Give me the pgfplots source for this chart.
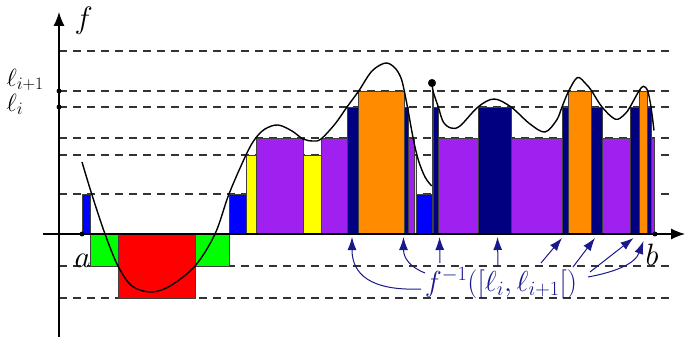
\documentclass[border=0pt]{standalone}
\usepackage{fix-cm}
\usepackage{pgfplots}
\pgfplotsset{compat=1.18}
\usetikzlibrary{arrows.meta}
\definecolor{cblue}{RGB}{0,0,255}
\definecolor{cgreen}{RGB}{0,255,0}
\definecolor{cred}{RGB}{255,0,0}
\definecolor{cyellow}{RGB}{255,255,0}
\definecolor{cpurple}{RGB}{160,32,240}
\definecolor{cnavy}{RGB}{0,0,128}
\definecolor{corange}{RGB}{255,140,0}
\definecolor{annot}{RGB}{25,25,140}
\newcommand{\rbar}[4]{\addplot[fill=#1, draw=black!75, line width=0.8bp] coordinates {(#2,0) (#2,#4) (#3,#4) (#3,0)} -- cycle;}
\newcommand{\level}[1]{\addplot[black!80, line width=1.2bp, dash pattern=on 8bp off 6bp] coordinates {(59,#1) (670,#1)};}
\begin{document}
\begin{tikzpicture}
\useasboundingbox (0,0) rectangle (685bp,337bp);
\clip (0,0) rectangle (685bp,337bp);
\begin{axis}[x=1bp, y=1bp, xmin=0, xmax=685, ymin=-103, ymax=234,
  hide axis, clip=false, anchor=south west, at={(0,0)}]
% level lines
\level{183}
\level{143}
\level{127}
\level{96}
\level{79}
\level{40}
\level{-32}
\level{-64}
% bars
\rbar{cblue}{82.3}{90.7}{40}
\rbar{cgreen}{90.7}{118.5}{-32}
\rbar{cred}{118.5}{195}{-64}
\rbar{cgreen}{195}{229}{-32}
\rbar{cblue}{229}{246}{40}
\rbar{cyellow}{246}{256}{79}
\rbar{cpurple}{256}{303.3}{96}
\rbar{cyellow}{303.3}{321.7}{79}
\rbar{cpurple}{321.7}{347}{96}
\rbar{cnavy}{347}{358.7}{127}
\rbar{corange}{358.7}{404.3}{143}
\rbar{cnavy}{404.3}{408}{127}
\rbar{cpurple}{408}{414}{96}
\rbar{cyellow}{414}{416.7}{79}
\rbar{cblue}{416.7}{432}{40}
\rbar{corange}{432}{433.5}{143}
\rbar{cnavy}{433.5}{438.3}{127}
\rbar{cpurple}{438.3}{478.3}{96}
\rbar{cnavy}{478.3}{511}{127}
\rbar{cpurple}{511}{562}{96}
\rbar{cnavy}{562}{568.7}{127}
\rbar{corange}{568.7}{591.7}{143}
\rbar{cnavy}{591.7}{602.3}{127}
\rbar{cpurple}{602.3}{630.5}{96}
\rbar{cnavy}{630.5}{639}{127}
\rbar{corange}{639}{647.7}{143}
\rbar{cnavy}{647.7}{651}{127}
\rbar{cpurple}{651}{654.3}{96}
% axes
\draw[line width=1.2bp, -{Latex[length=14bp,width=11bp]}] (axis cs:43,0) -- (axis cs:685,0);
\draw[line width=1.2bp, -{Latex[length=14bp,width=11bp]}] (axis cs:59,-103) -- (axis cs:59,222);
% function
\addplot[black, line width=1.4bp, smooth, tension=0.55] coordinates {
(82,72) (91.7,40) (105,0) (118,-32) (132,-52) (151,-58) (170,-52) (195,-32)
(215,0) (229,40) (246,79) (255,95) (265,105) (278,109) (292,103) (303,95)
(313,93) (321,95) (335,110) (347,127) (358.7,143) (372,163) (385.7,171)
(395,166) (401,156) (404.3,143) (408,124) (413.3,95) (418.3,74) (425,57) (431.7,48)};
\addplot[black, line width=1.4bp, smooth, tension=0.55] coordinates {
(432,151) (433.3,142) (438.3,127) (443.3,112) (451,106) (460,108) (478,127)
(494,135) (511,127) (530,110) (545,102) (556.7,114) (562,127) (568.7,143)
(577.5,156.5) (586,150) (591.7,143) (602,127) (615.5,114.7) (625,120) (630,127)
(639,143) (643.5,147.7) (647.7,143) (651,127) (654,103.5)};
% dots
\addplot[only marks, mark=*, mark size=2.2bp, black] coordinates {(82,0) (655,0) (59,143) (59,127)};
\addplot[only marks, mark=*, mark size=3.8bp, black] coordinates {(432,151)};
% annotation arrows
\begin{scope}[annot, line width=1bp, -{Latex[length=13bp,width=9bp]}]
\draw (axis cs:421,-55) .. controls (axis cs:370,-57) and (axis cs:352,-40) .. (axis cs:352,-3);
\draw (axis cs:425,-39) .. controls (axis cs:410,-33) and (axis cs:403.5,-24) .. (axis cs:403.5,-3);
\draw (axis cs:440,-29) -- (axis cs:439.5,-3);
\draw (axis cs:498,-33) -- (axis cs:497.5,-3);
\draw (axis cs:541,-29) -- (axis cs:562,-4);
\draw (axis cs:573,-33) -- (axis cs:595,-4);
\draw (axis cs:590,-38) -- (axis cs:633.5,-4);
\draw (axis cs:588,-43) .. controls (axis cs:615,-38) and (axis cs:635,-30) .. (axis cs:643.5,-7);
\end{scope}
% labels
\node[anchor=base west, font=\fontsize{31}{34}\selectfont] at (axis cs:71,206) {$f$};
\node[anchor=base west, inner ysep=1bp, font=\fontsize{25}{29}\selectfont] at (axis cs:3,148) {$\ell_{i+1}$};
\node[anchor=base west, inner ysep=1bp, font=\fontsize{25}{29}\selectfont] at (axis cs:3,123) {$\ell_i$};
\node[anchor=base west, font=\fontsize{31}{34}\selectfont] at (axis cs:71,-33) {$a$};
\node[anchor=base west, font=\fontsize{31}{34}\selectfont] at (axis cs:642,-31) {$b$};
\node[anchor=base, text=annot, font=\fontsize{29}{33}\selectfont] at (axis cs:501,-57) {$f^{-1}([\ell_i,\ell_{i+1}[)$};
\end{axis}
\end{tikzpicture}
\end{document}
